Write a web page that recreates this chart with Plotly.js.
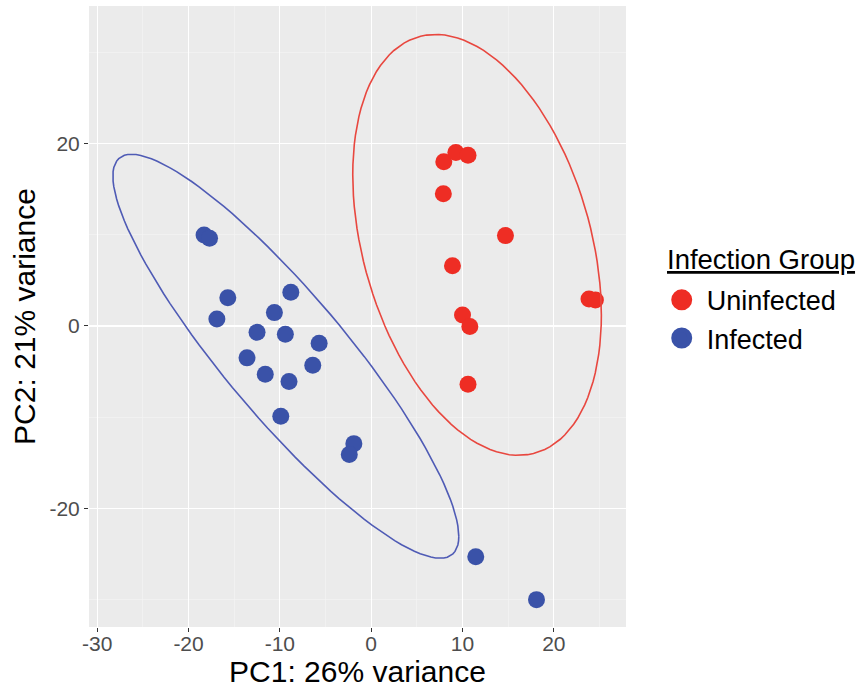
<!DOCTYPE html>
<html>
<head>
<meta charset="utf-8">
<script src="https://cdn.plot.ly/plotly-3.0.1.min.js"></script>
<style>html,body{margin:0;padding:0;background:#fff}#chart{width:859px;height:688px}</style>
</head>
<body>
<div id="chart"></div>
<script>
// Uninfected group (PC1, PC2)
const uninfectedPC1 = [7.95, 9.27, 10.6, 7.9, 14.7, 8.9, 23.85, 24.55, 10.0, 10.8, 10.6];
const uninfectedPC2 = [18.0, 19.0, 18.7, 14.5, 9.9, 6.6, 2.96, 2.85, 1.2, -0.07, -6.4];
// Infected group (PC1, PC2)
const infectedPC1 = [-18.3, -17.7, -15.7, -16.9, -8.8, -10.6, -12.5, -9.4, -5.7, -13.6, -6.4, -11.6, -9.0, -9.9, -1.9, -2.4, 11.45, 18.1];
const infectedPC2 = [9.97, 9.6, 3.1, 0.77, 3.7, 1.46, -0.7, -0.9, -1.9, -3.5, -4.3, -5.3, -6.1, -9.9, -12.9, -14.1, -25.3, -30.0];

const groupNames = ["Uninfected", "Infected"];
const groupColors = ["#EE2D24", "#3A52A8"];
const ellipseColors = ["#E8473F", "#4F5BB5"];
const xTicks = [-30, -20, -10, 0, 10, 20];
const yTicks = [-20, 0, 20];
const legendTitle = "Infection Group";

// robust t covariance (as MASS::cov.trob) + ggplot2 stat_ellipse (type "t", level 0.95)
function covTrob(xs, ys, nu, maxit, tol) {
  const n = xs.length, p = 2;
  let w = new Array(n).fill(1);
  let lx = xs.reduce((a, b) => a + b, 0) / n;
  let ly = ys.reduce((a, b) => a + b, 0) / n;
  let X = [], Y = [];
  for (let it = 0; it < maxit; it++) {
    const w0 = w.slice();
    X = xs.map(v => v - lx); Y = ys.map(v => v - ly);
    const sw = w.reduce((a, b) => a + b, 0);
    let s11 = 0, s12 = 0, s22 = 0;
    for (let i = 0; i < n; i++) {
      s11 += w[i] / sw * X[i] * X[i];
      s12 += w[i] / sw * X[i] * Y[i];
      s22 += w[i] / sw * Y[i] * Y[i];
    }
    const det = s11 * s22 - s12 * s12;
    const i11 = s22 / det, i12 = -s12 / det, i22 = s11 / det;
    w = X.map((xv, i) => {
      const yv = Y[i];
      const Q = xv * xv * i11 + 2 * xv * yv * i12 + yv * yv * i22;
      return (nu + p) / (nu + Q);
    });
    const sw2 = w.reduce((a, b) => a + b, 0);
    lx = xs.reduce((a, v, i) => a + w[i] * v, 0) / sw2;
    ly = ys.reduce((a, v, i) => a + w[i] * v, 0) / sw2;
    if (w.every((v, i) => Math.abs(v - w0[i]) < tol)) break;
  }
  let c11 = 0, c12 = 0, c22 = 0;
  for (let i = 0; i < n; i++) {
    c11 += w[i] * X[i] * X[i];
    c12 += w[i] * X[i] * Y[i];
    c22 += w[i] * Y[i] * Y[i];
  }
  return {cov: [c11 / n, c12 / n, c22 / n], center: [lx, ly]};
}
function ellipse(xs, ys, level, segments) {
  const n = xs.length;
  const v = covTrob(xs, ys, 5, 25, 0.01);
  const [s11, s12, s22] = v.cov;
  const a = Math.sqrt(s11), b = s12 / a, c = Math.sqrt(s22 - b * b);
  const dfd = n - 1;
  const qf = dfd / 2 * (Math.pow(1 - level, -2 / dfd) - 1);
  const radius = Math.sqrt(2 * qf);
  const ex = [], ey = [];
  for (let k = 0; k <= segments; k++) {
    const t = k * 2 * Math.PI / segments;
    const ct = Math.cos(t), st = Math.sin(t);
    ex.push(v.center[0] + radius * ct * a);
    ey.push(v.center[1] + radius * (ct * b + st * c));
  }
  return {x: ex, y: ey};
}

const groupsX = [uninfectedPC1, infectedPC1];
const groupsY = [uninfectedPC2, infectedPC2];
const traces = [];
for (let g = 0; g < 2; g++) {
  traces.push({
    type: "scatter", mode: "markers", name: groupNames[g], legendgroup: groupNames[g],
    x: groupsX[g], y: groupsY[g], showlegend: false,
    marker: {color: groupColors[g], size: 17, line: {width: 0}},
    hoverinfo: "skip"
  });
}
for (let g = 0; g < 2; g++) {
  const e = ellipse(groupsX[g], groupsY[g], 0.95, 120);
  traces.push({
    type: "scatter", mode: "lines", x: e.x, y: e.y, showlegend: false,
    line: {color: ellipseColors[g], width: 1.6}, hoverinfo: "skip"
  });
}
// legend keys (larger symbols, as in the reference legend)
for (let g = 0; g < 2; g++) {
  traces.push({
    type: "scatter", mode: "markers", name: groupNames[g], legendgroup: groupNames[g],
    x: [null], y: [null], showlegend: true,
    marker: {color: groupColors[g], size: 16, line: {width: 5, color: groupColors[g]}},
    hoverinfo: "skip"
  });
}

const font = "Liberation Sans, Arial, Helvetica, sans-serif";
const layout = {
  width: 859, height: 688,
  margin: {l: 89, r: 233, t: 6, b: 61},
  paper_bgcolor: "#ffffff",
  plot_bgcolor: "#EBEBEB",
  font: {family: font, color: "#000000"},
  showlegend: true,
  xaxis: {
    range: [-30.9, 27.9], tickvals: xTicks, ticktext: xTicks.map(String),
    showgrid: true, gridcolor: "#ffffff", gridwidth: 1.2,
    minor: {dtick: 5, tick0: 0, showgrid: true, gridcolor: "#F5F5F5", gridwidth: 0.6, ticks: ""},
    zeroline: false, showline: false,
    ticks: "outside", ticklen: 4, tickwidth: 1, tickcolor: "#333333",
    ticklabelstandoff: -6,
    tickfont: {family: font, size: 21, color: "#4D4D4D"},
    title: {text: "PC1: 26% variance", font: {family: font, size: 30, color: "#000000"}, standoff: 10},
    automargin: false, fixedrange: true
  },
  yaxis: {
    range: [-33.0, 35.07], tickvals: yTicks, ticktext: yTicks.map(String),
    showgrid: true, gridcolor: "#ffffff", gridwidth: 1.2,
    minor: {dtick: 10, tick0: 0, showgrid: true, gridcolor: "#F5F5F5", gridwidth: 0.6, ticks: ""},
    zeroline: false, showline: false,
    ticks: "outside", ticklen: 4, tickwidth: 1, tickcolor: "#333333",
    tickfont: {family: font, size: 21, color: "#4D4D4D"},
    title: {text: "PC2: 21% variance", font: {family: font, size: 30, color: "#000000"}, standoff: 4},
    automargin: false, fixedrange: true
  },
  legend: {
    x: 1.0572, xanchor: "left", y: 0.5655, yanchor: "top",
    bgcolor: "rgba(0,0,0,0)",
    font: {family: font, size: 27, color: "#000000"},
    tracegroupgap: 0, itemsizing: "trace", itemwidth: 40
  },
  annotations: [{
    xref: "paper", yref: "paper", x: 1.072, y: (627 - 259) / 621,
    xanchor: "left", yanchor: "middle", showarrow: false,
    text: "<u>" + legendTitle + "</u>",
    font: {family: font, size: 27.5, color: "#000000"}
  }]
};
Plotly.newPlot("chart", traces, layout, {displayModeBar: false, staticPlot: true});
</script>
</body>
</html>
